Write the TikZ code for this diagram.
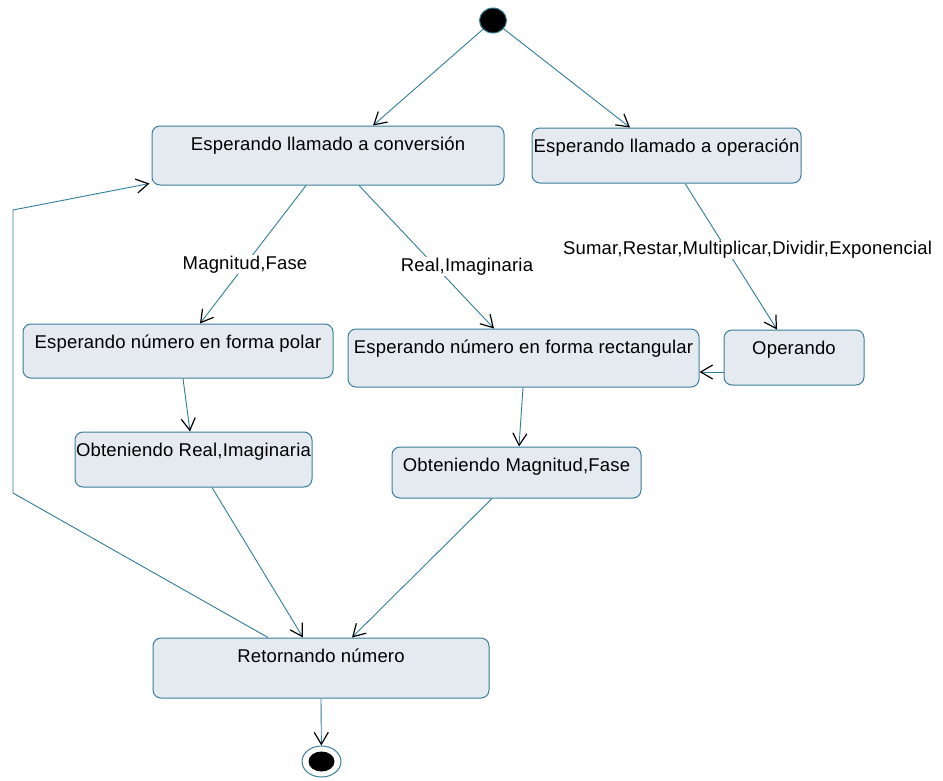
\documentclass[tikz,border=0pt]{standalone}
\usepackage{fontspec}
\setmainfont{Liberation Sans}[LetterSpace=1.0]
\usetikzlibrary{arrows.meta,shapes.geometric}
\definecolor{stateborder}{HTML}{3A7E9A}
\definecolor{statefill}{HTML}{E5EAF1}
\definecolor{flow}{HTML}{2E7D9B}
\tikzset{
  statebox/.style={draw=stateborder, fill=statefill, line width=1pt,
    rounded corners=8pt, inner xsep=0pt, inner ysep=0pt,
    text height=24pt, font=\fontsize{18.5}{22}\selectfont},
  flowline/.style={draw=flow, line width=0.9pt,
    -{Straight Barb[length=12pt,width=14pt,line width=1.2pt,color=black]}},
  guard/.style={fill=white, inner sep=1pt, anchor=base,
    font=\fontsize{18.5}{22}\selectfont}
}
\begin{document}
\begin{tikzpicture}[x=1pt,y=-1pt]
\useasboundingbox (0,0) rectangle (943,780);

% start and end pseudo-states
\node[ellipse, draw=stateborder, fill=black, line width=1pt,
  minimum width=27pt, minimum height=25pt, inner sep=0pt] (ini) at (493,20.5) {};
\node[ellipse, draw=stateborder, fill=white, line width=1pt,
  minimum width=39pt, minimum height=31pt, inner sep=0pt,
  path picture={\fill[black] (path picture bounding box.center) ellipse (13pt and 10pt);}]
  (fin) at (321.5,761.5) {};

% states
\node[statebox, minimum width=352pt, minimum height=59pt, text depth=35pt] (conv) at (328,155.5) {Esperando llamado a conversión};
\node[statebox, minimum width=269pt, minimum height=55pt, text depth=31pt] (oper) at (666.5,155.5) {Esperando llamado a operación};
\node[statebox, minimum width=310pt, minimum height=54pt, text depth=30pt] (polar) at (178,351) {Esperando número en forma polar};
\node[statebox, minimum width=351pt, minimum height=58pt, text depth=34pt] (rect) at (523.5,358) {Esperando número en forma rectangular};
\node[statebox, minimum width=140pt, minimum height=55pt, text depth=31pt] (opnd) at (794,357.5) {Operando};
\node[statebox, minimum width=237pt, minimum height=55pt, text depth=31pt] (ori) at (193.5,459.5) {Obteniendo Real,Imaginaria};
\node[statebox, minimum width=249pt, minimum height=51pt, text depth=27pt] (omf) at (516.5,472.5) {Obteniendo Magnitud,Fase};
\node[statebox, minimum width=336pt, minimum height=60pt, text depth=36pt] (ret) at (321,668) {Retornando número};

% bends of the return loop
\coordinate (b1) at (13,493);
\coordinate (b2) at (13,210);

% transitions
\draw[flowline] (ini) -- ([xshift=45pt]conv.north);
\draw[flowline] (ini) -- ([xshift=-36.5pt]oper.north);
\draw[flowline] ([xshift=-22pt]conv.south) -- ([xshift=22pt]polar.north);
\draw[flowline] ([xshift=31pt]conv.south) -- ([xshift=-29.5pt]rect.north);
\draw[flowline] ([xshift=18.5pt]oper.south) -- ([xshift=-17pt]opnd.north);
\draw[flowline] ([yshift=-14.5pt]opnd.west) -- ([yshift=-14pt]rect.east);
\draw[flowline] ([xshift=5pt]polar.south) -- ([xshift=-3.5pt]ori.north);
\draw[flowline] ([xshift=-0.5pt]rect.south) -- ([xshift=2.5pt]omf.north);
\draw[flowline] ([xshift=18.5pt]ori.south) -- ([xshift=-18pt]ret.north);
\draw[flowline] ([xshift=-24.5pt]omf.south) -- ([xshift=31pt]ret.north);
\draw[flowline] ([xshift=-53pt]ret.north) -- (b1) -- (b2) -- ([shift={(-2pt,2pt)}]conv.south west);
\draw[flowline] (ret.south) -- (fin);

% guards
\node[guard] (g1) at (245,269) {Magnitud,Fase};
\node[guard] (g2) at (467,271) {Real,Imaginaria};
\node[guard] (g3) at (747.5,254) {Sumar,Restar,Multiplicar,Dividir,Exponencial};
\end{tikzpicture}
\end{document}
